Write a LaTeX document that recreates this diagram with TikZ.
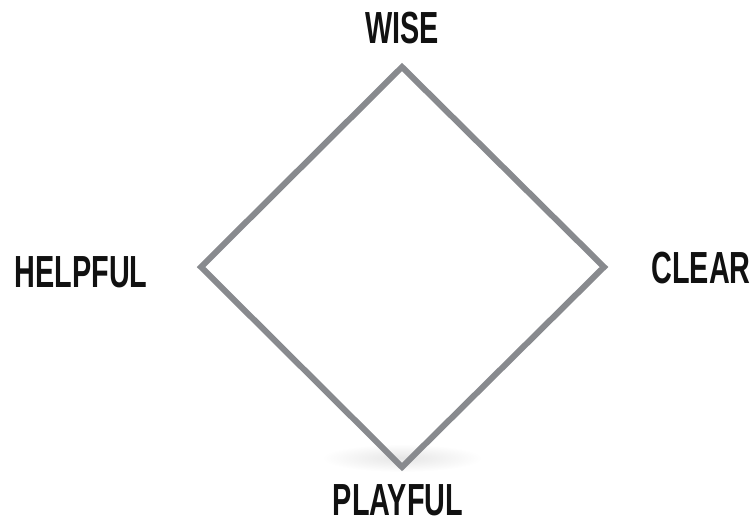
\documentclass[tikz,border=0pt]{standalone}
\usepackage{fontspec}
\setmainfont{Liberation Sans}[FakeStretch=0.64]
\usetikzlibrary{positioning,calc}
\definecolor{dmGray}{HTML}{888A8E}
\definecolor{dmInk}{HTML}{111111}
\tikzset{
  edgeln/.style={draw=dmGray, line width=6pt, line join=miter},
  lbl/.style={font=\fontsize{45}{45}\selectfont\bfseries, text=dmInk, inner sep=0pt},
}
\begin{document}
\begin{tikzpicture}[x=1pt, y=-1pt]
    \useasboundingbox (0,0) rectangle (751,523);
    % ---------- shadow ----------
    \shade[inner color=black!10, outer color=white] (402,458) ellipse (80 and 14);
    % ---------- corners ----------
    \coordinate (top) at (402,67);
    \coordinate (lft) at (201,267);
    \coordinate (rgt) at (604,267);
    \coordinate (bot) at (402,467);
    \draw[edgeln] (top) -- (rgt) -- (bot) -- (lft) -- cycle;
    % ---------- labels ----------
    \node[lbl] (wise) at (402,28) {WISE};
    \node[lbl] (helpful) at (81,272) {HELPFUL};
    \node[lbl] (clear) at (701,268) {CLEAR};
    \node[lbl] (playful) at (398,500) {PLAYFUL};
\end{tikzpicture}
\end{document}
